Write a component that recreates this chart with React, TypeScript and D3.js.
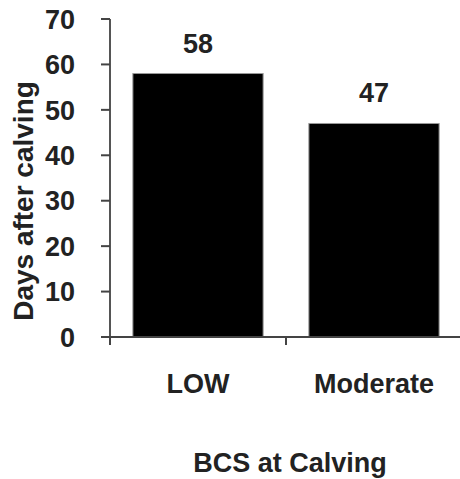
import * as d3 from 'd3';

// chart values
const categories = ['LOW', 'Moderate'];
const values = [58, 47];
const yTicks = [0, 10, 20, 30, 40, 50, 60, 70];
const yTitle = 'Days after calving';
const xTitle = 'BCS at Calving';

const width = 460;
const height = 479;
const left = 110;
const right = 462;
const top = 19;
const bottom = 337;
const font = "'Liberation Sans', Arial, sans-serif";
const fs = 27;

function BarChart() {
  const x = d3
    .scaleBand<string>()
    .domain(categories)
    .range([left, right])
    .paddingInner(0.26)
    .paddingOuter(0.13);
  const y = d3.scaleLinear().domain([0, 70]).range([bottom, top]);
  const step = x.step();
  // category boundaries for the x ticks
  const xTickPos = d3.range(categories.length + 1).map((i) => left + i * step);

  return (
    <svg
      width={width}
      height={height}
      style={{ display: 'block', position: 'absolute', left: 0, top: 0 }}
    >
      <rect width={width} height={height} fill="#fff" />

      {/* bars */}
      {categories.map((c, i) => (
        <rect
          key={c}
          x={x(c) ?? 0}
          y={y(values[i])}
          width={x.bandwidth()}
          height={bottom - y(values[i])}
          fill="#000"
          stroke="#999"
          strokeWidth={1}
        />
      ))}

      {/* value labels */}
      {categories.map((c, i) => (
        <text
          key={c + '-v'}
          x={(x(c) ?? 0) + x.bandwidth() / 2}
          y={y(values[i]) - 21}
          textAnchor="middle"
          fontFamily={font}
          fontWeight="bold"
          fontSize={fs}
          fill="#222"
        >
          {values[i]}
        </text>
      ))}

      {/* y axis */}
      <line x1={left} x2={left} y1={top} y2={bottom} stroke="#555" strokeWidth={2} />
      {yTicks.map((t) => (
        <g key={t}>
          <line x1={left - 9} x2={left} y1={y(t)} y2={y(t)} stroke="#444" strokeWidth={2} />
          <text
            x={left - 35}
            y={y(t)}
            dy="0.36em"
            textAnchor="end"
            fontFamily={font}
            fontWeight="bold"
            fontSize={fs}
            fill="#222"
          >
            {t}
          </text>
        </g>
      ))}

      {/* x axis */}
      <line x1={left - 9} x2={right} y1={bottom} y2={bottom} stroke="#444" strokeWidth={2} />
      {xTickPos.map((p) => (
        <line key={p} x1={p} x2={p} y1={bottom} y2={bottom + 8} stroke="#444" strokeWidth={2} />
      ))}
      {categories.map((c) => (
        <text
          key={c + '-l'}
          x={(x(c) ?? 0) + x.bandwidth() / 2}
          y={393}
          textAnchor="middle"
          fontFamily={font}
          fontWeight="bold"
          fontSize={fs}
          fill="#222"
        >
          {c}
        </text>
      ))}

      {/* titles */}
      <text
        x={290}
        y={472}
        textAnchor="middle"
        fontFamily={font}
        fontWeight="bold"
        fontSize={fs}
        fill="#222"
      >
        {xTitle}
      </text>
      <text
        transform={`translate(33, 201) rotate(-90)`}
        textAnchor="middle"
        fontFamily={font}
        fontWeight="bold"
        fontSize={28}
        fill="#222"
      >
        {yTitle}
      </text>
    </svg>
  );
}

export default function App() {
  return <BarChart />;
}
